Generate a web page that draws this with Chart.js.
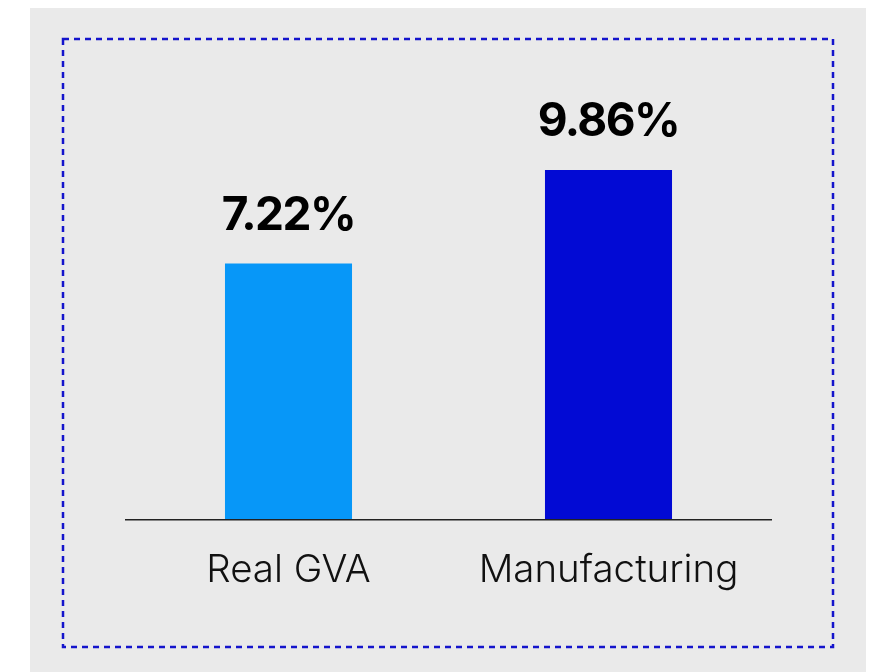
<!DOCTYPE html>
<html>
<head>
<meta charset="utf-8">
<script src="https://cdn.jsdelivr.net/npm/chart.js@4"></script>
<style>
  html, body { margin: 0; padding: 0; background: #ffffff; }
  #wrap { width: 874px; height: 672px; position: relative; }
</style>
</head>
<body>
<div id="wrap"><canvas id="chart" width="874" height="672"></canvas></div>
<script>
const categories = ['Real GVA', 'Manufacturing'];
const growthValues = [7.22, 9.86];
const barColors = ['#0797f8', '#020ad4'];

// panel background + dashed frame
const framePlugin = {
  id: 'frame',
  beforeDraw(chart) {
    const ctx = chart.ctx;
    ctx.save();
    ctx.fillStyle = '#ffffff';
    ctx.fillRect(0, 0, chart.width, chart.height);
    ctx.fillStyle = '#eaeaea';
    ctx.fillRect(30, 8, 836, 664);
    ctx.strokeStyle = '#1414cc';
    ctx.lineWidth = 2.5;
    ctx.setLineDash([6, 5]);
    ctx.strokeRect(63, 39, 770, 608);
    ctx.restore();
  }
};

// baseline, a little wider than the plot area
const baseline = {
  id: 'baseline',
  afterDatasetsDraw(chart) {
    const { ctx, chartArea } = chart;
    const y = chart.scales.y.getPixelForValue(0);
    ctx.save();
    ctx.strokeStyle = '#222222';
    ctx.lineWidth = 1.5;
    ctx.beginPath();
    ctx.moveTo(chartArea.left - 3.5, y);
    ctx.lineTo(chartArea.right + 3.5, y);
    ctx.stroke();
    ctx.restore();
  }
};

// value labels above the bars
const valueLabels = {
  id: 'valueLabels',
  afterDatasetsDraw(chart) {
    const ctx = chart.ctx;
    const meta = chart.getDatasetMeta(0);
    ctx.save();
    ctx.font = 'bold 46px Inter, "Liberation Sans", sans-serif';
    ctx.letterSpacing = '-1.5px';
    ctx.fillStyle = '#000000';
    ctx.textAlign = 'center';
    ctx.textBaseline = 'alphabetic';
    meta.data.forEach((bar, i) => {
      ctx.fillText(growthValues[i].toFixed(2) + '%', bar.x, bar.y - 34);
    });
    ctx.restore();
  }
};

new Chart(document.getElementById('chart'), {
  type: 'bar',
  data: {
    labels: categories,
    datasets: [{
      data: growthValues,
      backgroundColor: barColors,
      borderWidth: 0,
      barPercentage: 0.397,
      categoryPercentage: 1
    }]
  },
  options: {
    responsive: false,
    animation: false,
    layout: { padding: { left: 128.5, right: 105.5, top: 94, bottom: 50 } },
    plugins: {
      legend: { display: false },
      tooltip: { enabled: false }
    },
    scales: {
      y: {
        display: false,
        min: 0,
        max: 12
      },
      x: {
        grid: { display: false, drawTicks: false },
        border: { display: false },
        ticks: {
          color: '#111111',
          padding: 28,
          font: { family: 'Inter, "Liberation Sans", sans-serif', size: 38.5, weight: '300' }
        }
      }
    }
  },
  plugins: [framePlugin, baseline, valueLabels]
});
</script>
</body>
</html>
